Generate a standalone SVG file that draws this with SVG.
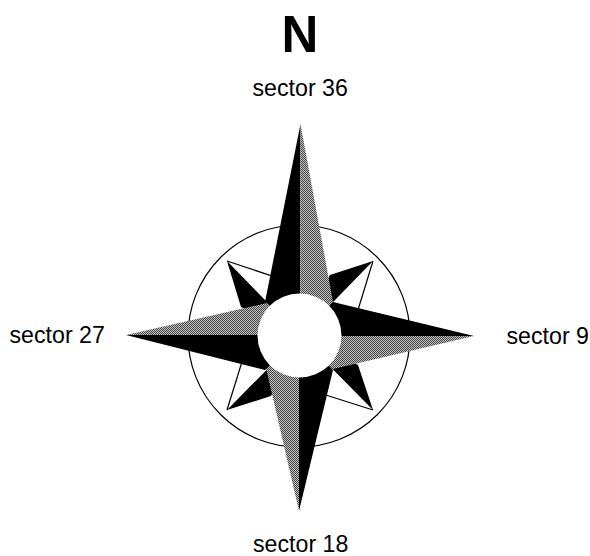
<svg xmlns="http://www.w3.org/2000/svg" width="590" height="556" viewBox="0 0 590 556">
<style>
.l{font-family:"Liberation Sans",Arial,sans-serif;font-size:23.2px;fill:#000}
.n{font-family:"Liberation Sans",Arial,sans-serif;font-size:51px;font-weight:bold;fill:#000}
.k{fill:#000}
.g{fill:url(#dither)}
.o{fill:none;stroke:#000;stroke-width:1.2}
</style>
<defs>
<pattern id="dither" width="2" height="2" patternUnits="userSpaceOnUse">
<rect width="2" height="2" fill="#bdbdbd"/>
<rect width="1" height="1" fill="#4a4a4a"/>
<rect x="1" y="1" width="1" height="1" fill="#4a4a4a"/>
</pattern>
</defs>
<rect width="590" height="556" fill="#fff"/>
<g id="ring"><circle class="o" cx="299" cy="336" r="111"/></g>
<g id="point-nw"><path class="k" d="M227 261L241 307L300 336Z"/><path class="o" d="M227 261L290 282"/></g>
<g id="point-ne"><path class="k" d="M373 261L330 275L300 336Z"/><path class="o" d="M373 261L350 336"/></g>
<g id="point-se"><path class="k" d="M373 410L358 365L300 336Z"/><path class="o" d="M373 410L310 390"/></g>
<g id="point-sw"><path class="k" d="M227 410L271 396L300 336Z"/><path class="o" d="M227 410L250 336"/></g>
<g id="arm-n"><path class="k" d="M300.5 124L265 302L300 336Z"/><path class="g" d="M300.5 124L333 302L300 336Z"/></g>
<g id="arm-e"><path class="k" d="M474 336L333 302L300 336Z"/><path class="g" d="M474 336L333 369L300 336Z"/></g>
<g id="arm-s"><path class="k" d="M299 511L333 370L299 336Z"/><path class="g" d="M299 511L266 368L299 336Z"/></g>
<g id="arm-w"><path class="k" d="M126 335L265 370L300 335Z"/><path class="g" d="M126 335L267 303L300 335Z"/></g>
<g id="hub"><circle cx="299.5" cy="335.5" r="42" fill="#fff"/></g>
<g id="labels">
<text class="n" x="300" y="52" text-anchor="middle">N</text>
<text class="l" x="252.5" y="96">sector 36</text>
<text class="l" x="9.5" y="343">sector 27</text>
<text class="l" x="506.5" y="344">sector 9</text>
<text class="l" x="253" y="552">sector 18</text>
</g>
</svg>
